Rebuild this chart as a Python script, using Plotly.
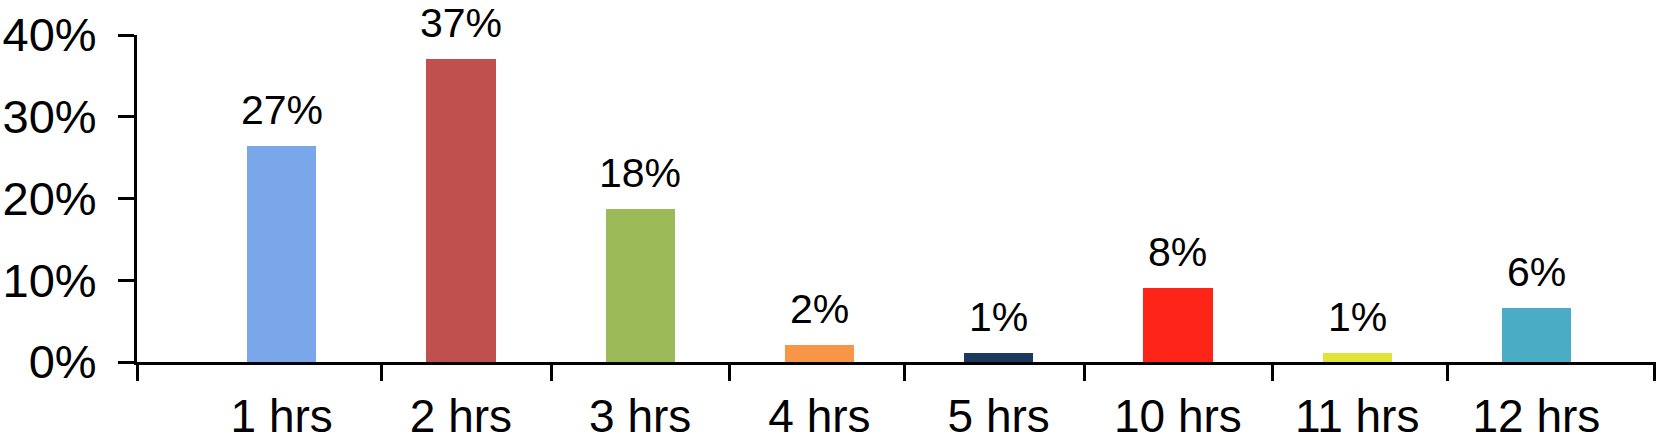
import plotly.graph_objects as go

categories = ["1 hrs", "2 hrs", "3 hrs", "4 hrs", "5 hrs", "10 hrs", "11 hrs", "12 hrs"]
values = [26.4, 37.1, 18.75, 2.1, 1.13, 9.0, 1.13, 6.64]
labels = ["27%", "37%", "18%", "2%", "1%", "8%", "1%", "6%"]
colors = ["#7aa7ea", "#c0504d", "#9bbb59", "#f79646", "#1b3a5e", "#fe2418", "#dfe33a", "#4bacc6"]
y_ticks = [0, 10, 20, 30, 40]
y_ticklabels = ["0%", "10%", "20%", "30%", "40%"]

FONT = "Arial, Liberation Sans, Helvetica, sans-serif"
x_range = [-0.807, 7.667]
idx = list(range(len(categories)))

fig = go.Figure()
fig.add_trace(go.Bar(
    x=idx, y=values, marker=dict(color=colors, line=dict(width=0)),
    width=0.386, showlegend=False, hoverinfo="skip",
))
# dummy trace for the tick-mark axis
fig.add_trace(go.Scatter(x=[None], y=[None], xaxis="x2", yaxis="y",
                         showlegend=False, hoverinfo="skip"))

for i, (v, t) in enumerate(zip(values, labels)):
    fig.add_annotation(x=i, y=v, text=t, showarrow=False, xanchor="center",
                       yanchor="bottom", yshift=11,
                       font=dict(family=FONT, size=41, color="black"))

fig.update_layout(
    width=1658, height=443,
    margin=dict(l=136.5, r=2.3, t=35, b=81.2),
    plot_bgcolor="white", paper_bgcolor="white",
    bargap=0,
    xaxis=dict(
        range=x_range, tickmode="array", tickvals=idx, ticktext=categories,
        ticks="", showline=True, linecolor="black", linewidth=3,
        showgrid=False, zeroline=False, automargin=False,
        tickfont=dict(family=FONT, size=46, color="black"),
        ticklabelstandoff=12,
    ),
    xaxis2=dict(
        range=x_range, overlaying="x", anchor="y", side="bottom",
        tickmode="array",
        tickvals=[-0.807, 0.558, 1.506, 2.496, 3.474, 4.478, 5.528, 6.504, 7.66],
        ticks="outside", ticklen=18, tickwidth=3, tickcolor="black",
        showticklabels=False, showline=False, showgrid=False, zeroline=False,
        automargin=False,
    ),
    yaxis=dict(
        range=[0, 40], tickmode="array", tickvals=y_ticks, ticktext=y_ticklabels,
        ticks="outside", ticklen=16, tickwidth=3, tickcolor="black",
        showline=True, linecolor="black", linewidth=3,
        showgrid=False, zeroline=False, automargin=False,
        tickfont=dict(family=FONT, size=47, color="black"),
        ticklabelstandoff=12,
    ),
)

fig.write_html(
    "out.html",
    config={"displayModeBar": False},
    post_script="document.body.style.margin='0';document.body.style.overflow='hidden';",
)
